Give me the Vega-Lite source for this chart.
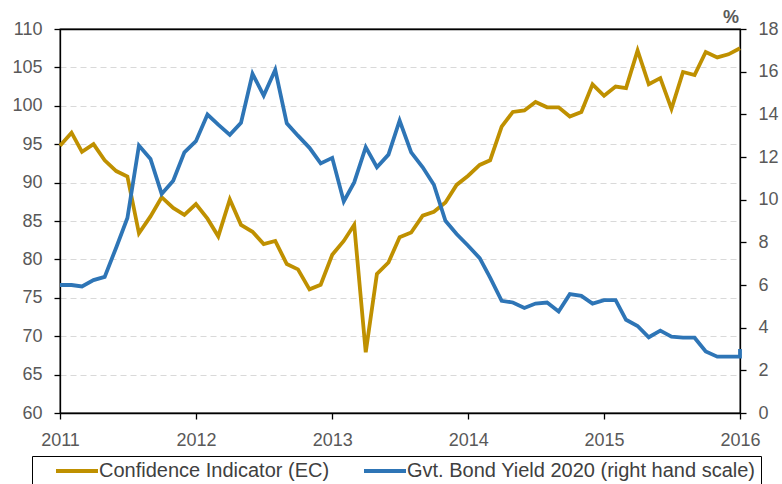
{
  "$schema": "https://vega.github.io/schema/vega-lite/v6.json",
  "width": 680,
  "height": 384,
  "autosize": {"type": "none"},
  "padding": {"left": 60, "top": 29, "right": 42, "bottom": 71},
  "config": {
    "font": "Liberation Sans",
    "view": {"stroke": "#000", "strokeWidth": 1.3},
    "axis": {
      "labelFont": "Liberation Sans",
      "labelFontSize": 18,
      "labelColor": "#595959",
      "domainColor": "#000",
      "domainWidth": 1.3,
      "tickColor": "#000",
      "tickWidth": 1.3,
      "tickSize": 6,
      "labelPadding": 12
    }
  },
  "data": {
    "values": [
      {"d": "2011-01-01", "ci": 94.8, "y": 6.0},
      {"d": "2011-02-01", "ci": 96.5, "y": 6.0},
      {"d": "2011-03-01", "ci": 94.0, "y": 5.93},
      {"d": "2011-04-01", "ci": 95.0, "y": 6.23},
      {"d": "2011-05-01", "ci": 92.9, "y": 6.38},
      {"d": "2011-06-01", "ci": 91.5, "y": 7.76},
      {"d": "2011-07-01", "ci": 90.8, "y": 9.14},
      {"d": "2011-08-01", "ci": 83.4, "y": 12.54},
      {"d": "2011-09-01", "ci": 85.6, "y": 11.91},
      {"d": "2011-10-01", "ci": 88.1, "y": 10.27},
      {"d": "2011-11-01", "ci": 86.7, "y": 10.89},
      {"d": "2011-12-01", "ci": 85.8, "y": 12.22},
      {"d": "2012-01-01", "ci": 87.2, "y": 12.74},
      {"d": "2012-02-01", "ci": 85.3, "y": 13.99},
      {"d": "2012-03-01", "ci": 83.0, "y": 13.52},
      {"d": "2012-04-01", "ci": 87.8, "y": 13.04},
      {"d": "2012-05-01", "ci": 84.5, "y": 13.6},
      {"d": "2012-06-01", "ci": 83.6, "y": 15.9},
      {"d": "2012-07-01", "ci": 82.0, "y": 14.88},
      {"d": "2012-08-01", "ci": 82.4, "y": 16.09},
      {"d": "2012-09-01", "ci": 79.4, "y": 13.58},
      {"d": "2012-10-01", "ci": 78.7, "y": 13.0},
      {"d": "2012-11-01", "ci": 76.1, "y": 12.43},
      {"d": "2012-12-01", "ci": 76.7, "y": 11.7},
      {"d": "2013-01-01", "ci": 80.6, "y": 11.96},
      {"d": "2013-02-01", "ci": 82.4, "y": 9.92},
      {"d": "2013-03-01", "ci": 84.5, "y": 10.81},
      {"d": "2013-04-01", "ci": 67.9, "y": 12.46},
      {"d": "2013-05-01", "ci": 78.1, "y": 11.52},
      {"d": "2013-06-01", "ci": 79.6, "y": 12.11},
      {"d": "2013-07-01", "ci": 82.9, "y": 13.71},
      {"d": "2013-08-01", "ci": 83.5, "y": 12.22},
      {"d": "2013-09-01", "ci": 85.7, "y": 11.52},
      {"d": "2013-10-01", "ci": 86.2, "y": 10.7},
      {"d": "2013-11-01", "ci": 87.4, "y": 9.01},
      {"d": "2013-12-01", "ci": 89.7, "y": 8.39},
      {"d": "2014-01-01", "ci": 90.9, "y": 7.84},
      {"d": "2014-02-01", "ci": 92.3, "y": 7.26},
      {"d": "2014-03-01", "ci": 92.9, "y": 6.35},
      {"d": "2014-04-01", "ci": 97.3, "y": 5.26},
      {"d": "2014-05-01", "ci": 99.2, "y": 5.18},
      {"d": "2014-06-01", "ci": 99.4, "y": 4.92},
      {"d": "2014-07-01", "ci": 100.5, "y": 5.13},
      {"d": "2014-08-01", "ci": 99.8, "y": 5.18},
      {"d": "2014-09-01", "ci": 99.8, "y": 4.76},
      {"d": "2014-10-01", "ci": 98.6, "y": 5.57},
      {"d": "2014-11-01", "ci": 99.2, "y": 5.49},
      {"d": "2014-12-01", "ci": 102.8, "y": 5.13},
      {"d": "2015-01-01", "ci": 101.3, "y": 5.29},
      {"d": "2015-02-01", "ci": 102.5, "y": 5.29},
      {"d": "2015-03-01", "ci": 102.3, "y": 4.37},
      {"d": "2015-04-01", "ci": 107.2, "y": 4.08},
      {"d": "2015-05-01", "ci": 102.8, "y": 3.55},
      {"d": "2015-06-01", "ci": 103.6, "y": 3.86},
      {"d": "2015-07-01", "ci": 99.6, "y": 3.58},
      {"d": "2015-08-01", "ci": 104.4, "y": 3.53},
      {"d": "2015-09-01", "ci": 104.0, "y": 3.53},
      {"d": "2015-10-01", "ci": 107.0, "y": 2.88},
      {"d": "2015-11-01", "ci": 106.3, "y": 2.64},
      {"d": "2015-12-01", "ci": 106.7, "y": 2.64},
      {"d": "2016-01-01", "ci": 107.5, "y": 2.64},
      {"d": "2016-01-01", "y": 3.0}
    ]
  },
  "encoding": {
    "x": {
      "field": "d",
      "type": "temporal",
      "scale": {
        "type": "utc",
        "domain": [
          {"year": 2011, "month": 1, "date": 1, "utc": true},
          {"year": 2016, "month": 1, "date": 1, "utc": true}
        ]
      },
      "axis": {
        "title": null,
        "format": "%Y",
        "tickCount": {"interval": "year", "step": 1},
        "grid": false,
        "labelFlush": false
      }
    }
  },
  "layer": [
    {
      "mark": {"type": "line", "strokeWidth": 3.8},
      "encoding": {
        "y": {
          "field": "ci",
          "type": "quantitative",
          "scale": {"domain": [60, 110]},
          "axis": {
            "title": null,
            "values": [60, 65, 70, 75, 80, 85, 90, 95, 100, 105, 110],
            "grid": true,
            "gridColor": {"condition": {"test": "datum.value >= 110", "value": "#000"}, "value": "#D9D9D9"},
            "gridDash": {"condition": {"test": "datum.value >= 110", "value": []}, "value": [6, 4]},
            "gridWidth": {"condition": {"test": "datum.value >= 110", "value": 1.3}, "value": 1.2}
          }
        },
        "color": {
          "datum": "Confidence Indicator (EC)",
          "scale": {
            "domain": ["Confidence Indicator (EC)", "Gvt. Bond Yield 2020 (right hand scale)"],
            "range": ["#BF9000", "#2E75B6"]
          },
          "legend": {
            "orient": "none",
            "legendX": -28,
            "legendY": 427,
            "direction": "horizontal",
            "title": null,
            "strokeColor": "#000",
            "padding": 5,
            "symbolOffset": 30,
            "symbolType": "M-3,0H3",
            "symbolSize": 196,
            "symbolStrokeWidth": 4,
            "labelFont": "Liberation Sans",
            "labelFontSize": 20,
            "labelColor": "#404040",
            "labelOffset": 12,
            "columnPadding": 15,
            "labelLimit": 600
          }
        }
      }
    },
    {
      "mark": {"type": "line", "strokeWidth": 3.8},
      "encoding": {
        "y": {
          "field": "y",
          "type": "quantitative",
          "scale": {"domain": [0, 18]},
          "axis": {
            "orient": "right",
            "values": [0, 2, 4, 6, 8, 10, 12, 14, 16, 18],
            "grid": false,
            "title": "%",
            "titleAngle": 0,
            "titleX": -9.5,
            "titleY": -7,
            "titleAlign": "center",
            "titleBaseline": "alphabetic",
            "titleFont": "Liberation Sans",
            "titleFontSize": 18,
            "titleFontWeight": "bold",
            "titleColor": "#595959"
          }
        },
        "color": {"datum": "Gvt. Bond Yield 2020 (right hand scale)"}
      }
    }
  ],
  "resolve": {"scale": {"y": "independent"}}
}
